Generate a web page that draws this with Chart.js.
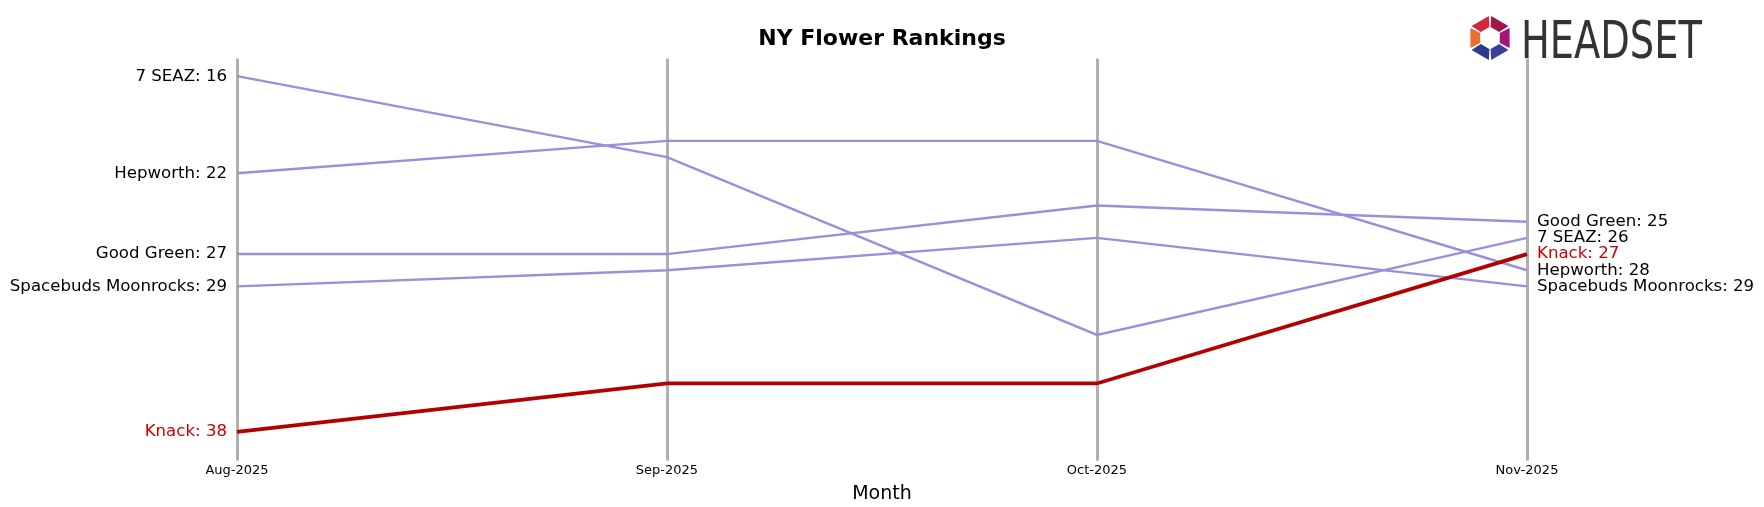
<!DOCTYPE html>
<html><head><meta charset="utf-8">
<script src="https://cdn.jsdelivr.net/npm/chart.js@4/dist/chart.umd.min.js"></script>
<style>html,body{margin:0;padding:0;background:#fff}#w{width:1764px;height:507px;position:relative}</style>
</head><body><div id="w"><canvas id="c"></canvas></div>
<script>
const months = ["Aug-2025","Sep-2025","Oct-2025","Nov-2025"];
const brands = ["7 SEAZ","Hepworth","Good Green","Spacebuds Moonrocks","Knack"];
const seaz = [16,21,32,26];
const hepworth = [22,20,20,28];
const goodGreen = [27,27,24,25];
const spacebuds = [29,28,26,29];
const knack = [38,35,35,27];
const seriesValues = [seaz,hepworth,goodGreen,spacebuds,knack];
const highlight = "Knack";

const datasets = brands.map((b,i)=>({
  label:b, data:seriesValues[i],
  borderColor: b===highlight ? "#b30000" : "#9b8fdb",
  borderWidth: b===highlight ? 3.8 : 2.4,
  pointRadius:0, tension:0, order: b===highlight?0:1
}));

const labelPlugin = {
  id:"labels",
  afterDatasetsDraw(chart){
    const ctx=chart.ctx, ys=chart.scales.y, xs=chart.scales.x;
    ctx.save();
    ctx.font="16.6px 'DejaVu Sans'";
    ctx.textBaseline="middle";
    brands.forEach((b,i)=>{
      ctx.fillStyle = b===highlight?"#cc0000":"#000";
      ctx.textAlign="right";
      ctx.fillText(b+": "+seriesValues[i][0], xs.getPixelForValue(0)-10, ys.getPixelForValue(seriesValues[i][0]));
    });
    const last=months.length-1;
    const order=brands.map((b,i)=>({b,v:seriesValues[i][last]})).sort((a,c)=>a.v-c.v);
    let prev=-Infinity;
    order.forEach(o=>{
      let pos=Math.max(o.v, prev+1); prev=pos;
      ctx.fillStyle = o.b===highlight?"#cc0000":"#000";
      ctx.textAlign="left";
      ctx.fillText(o.b+": "+o.v, xs.getPixelForValue(last)+10, ys.getPixelForValue(pos));
    });
    const cols=["#a0174a","#a8137a","#3a3f9e","#2e3a8c","#e8702a","#d6283a"];
    ctx.translate(1490,38);
    for(let k=0;k<6;k++){
      ctx.beginPath();
      const a0=(-90+k*60+3)*Math.PI/180, a1=(-30+k*60-3)*Math.PI/180;
      ctx.moveTo(Math.cos(a0)*22,Math.sin(a0)*22);
      ctx.lineTo(Math.cos(a1)*22,Math.sin(a1)*22);
      ctx.lineTo(Math.cos(a1)*11,Math.sin(a1)*11);
      ctx.lineTo(Math.cos(a0)*11,Math.sin(a0)*11);
      ctx.closePath(); ctx.fillStyle=cols[k]; ctx.fill();
    }
    ctx.translate(31,20);
    ctx.scale(0.82,1);
    ctx.fillStyle="#333"; ctx.font="52px 'DejaVu Sans Condensed'";
    ctx.textAlign="left"; ctx.textBaseline="alphabetic";
    ctx.fillText("HEADSET",0,0);
    ctx.restore();
  }
};

new Chart(document.getElementById("c"),{
  type:"line",
  data:{labels:months,datasets},
  options:{
    responsive:true, maintainAspectRatio:false, animation:false,
    layout:{padding:{left:237,right:237,top:0,bottom:0}},
    plugins:{legend:{display:false},
      title:{display:true,text:"NY Flower Rankings",font:{size:22,weight:"bold",family:"DejaVu Sans"},color:"#000",padding:{top:26,bottom:6}}},
    scales:{
      x:{offset:false,grid:{color:"#b0b0b0",lineWidth:3,drawTicks:true,tickLength:6},border:{display:false},
        ticks:{color:"#000",font:{size:13,family:"DejaVu Sans"},maxRotation:0,padding:2},
        title:{display:true,text:"Month",color:"#000",font:{size:19,family:"DejaVu Sans"},padding:{top:2,bottom:2}}},
      y:{reverse:true,min:14.9,max:39.4,display:false}
    }
  },
  plugins:[labelPlugin]
});
</script></body></html>
